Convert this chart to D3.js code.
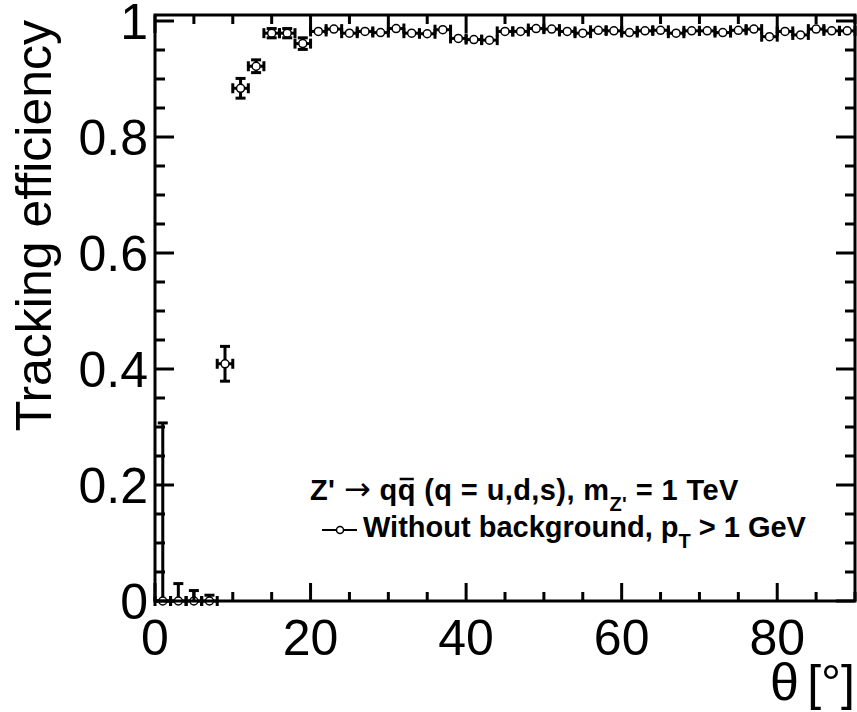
<!DOCTYPE html>
<html>
<head>
<meta charset="utf-8">
<script src="https://cdn.jsdelivr.net/npm/d3@7"></script>
<style>
  body { margin: 0; background: #fff; }
  text { font-family: "Liberation Sans", Arial, Helvetica, sans-serif; fill: #000; }
</style>
</head>
<body>
<svg id="chart" width="857" height="712"></svg>
<script>
// Polar angle bin centres (2 degree bins from 0 to 90)
const theta = [1, 3, 5, 7, 9, 11, 13, 15, 17, 19, 21, 23, 25, 27, 29, 31, 33, 35, 37, 39,
  41, 43, 45, 47, 49, 51, 53, 55, 57, 59, 61, 63, 65, 67, 69, 71, 73, 75, 77, 79,
  81, 83, 85, 87, 89];
const binHalfWidth = 1;

// Tracking efficiency per bin
const efficiency = [0, 0, 0, 0, 0.409, 0.884, 0.922, 0.979, 0.979, 0.961,
  0.982, 0.986, 0.979, 0.982, 0.980, 0.987, 0.979, 0.978, 0.985, 0.970,
  0.968, 0.967, 0.982, 0.982, 0.987, 0.986, 0.982, 0.979, 0.984, 0.983,
  0.980, 0.983, 0.984, 0.979, 0.983, 0.983, 0.980, 0.984, 0.986, 0.973,
  0.982, 0.976, 0.986, 0.983, 0.983];

// Asymmetric uncertainties
const errUp = [0.307, 0.030, 0.018, 0.010, 0.030, 0.017, 0.011, 0.008, 0.008, 0.010,
  0.005, 0.005, 0.005, 0.005, 0.005, 0.005, 0.005, 0.005, 0.005, 0.005,
  0.005, 0.005, 0.005, 0.005, 0.005, 0.005, 0.005, 0.005, 0.005, 0.005,
  0.005, 0.005, 0.005, 0.005, 0.005, 0.005, 0.005, 0.005, 0.005, 0.005,
  0.005, 0.005, 0.005, 0.005, 0.005];
const errDown = [0, 0, 0, 0, 0.030, 0.017, 0.011, 0.008, 0.008, 0.010,
  0.005, 0.005, 0.005, 0.005, 0.005, 0.005, 0.005, 0.005, 0.005, 0.005,
  0.005, 0.005, 0.005, 0.005, 0.005, 0.005, 0.005, 0.005, 0.005, 0.005,
  0.005, 0.005, 0.005, 0.005, 0.005, 0.005, 0.005, 0.005, 0.005, 0.005,
  0.005, 0.005, 0.005, 0.005, 0.005];

const xMajorTicks = [0, 20, 40, 60, 80];
const xTickLabels = ["0", "20", "40", "60", "80"];
const yMajorTicks = [0, 0.2, 0.4, 0.6, 0.8, 1];
const yTickLabels = ["0", "0.2", "0.4", "0.6", "0.8", "1"];

const svg = d3.select("#chart");
const frame = { left: 155, right: 855, top: 15, bottom: 601 };

const x = d3.scaleLinear().domain([0, 90]).range([frame.left, frame.right]);
const y = d3.scaleLinear().domain([0, 1]).range([frame.bottom, frame.bottom - 580]);
const yTop = y.invert(frame.top);

svg.append("rect").attr("width", 857).attr("height", 712).attr("fill", "#fff");

const ink = "#000";
const lw = 3;

// frame
svg.append("rect")
  .attr("x", frame.left).attr("y", frame.top)
  .attr("width", frame.right - frame.left).attr("height", frame.bottom - frame.top)
  .attr("fill", "none").attr("stroke", ink).attr("stroke-width", lw);

// ticks on all four sides
const xMinor = d3.range(0, 90.001, 5);
const yMinor = d3.range(0, yTop, 0.05);
const g = svg.append("g").attr("stroke", ink).attr("stroke-width", lw);
xMinor.forEach(v => {
  const len = xMajorTicks.includes(v) ? 18 : 9;
  const px = x(v);
  g.append("line").attr("x1", px).attr("x2", px).attr("y1", frame.bottom).attr("y2", frame.bottom - len);
  g.append("line").attr("x1", px).attr("x2", px).attr("y1", frame.top).attr("y2", frame.top + len);
});
yMinor.forEach(v => {
  const major = yMajorTicks.some(t => Math.abs(t - v) < 1e-6);
  const len = major ? 19 : 10;
  const py = y(v);
  g.append("line").attr("x1", frame.left).attr("x2", frame.left + len).attr("y1", py).attr("y2", py);
  g.append("line").attr("x1", frame.right).attr("x2", frame.right - len).attr("y1", py).attr("y2", py);
});

// tick labels
svg.selectAll(".xl").data(xMajorTicks).enter().append("text")
  .attr("x", d => x(d)).attr("y", 655)
  .attr("text-anchor", "middle").attr("font-size", 50)
  .text((d, i) => xTickLabels[i]);
svg.selectAll(".yl").data(yMajorTicks).enter().append("text")
  .attr("x", 148).attr("y", d => y(d) + 17.5)
  .attr("text-anchor", "end").attr("font-size", 50)
  .text((d, i) => yTickLabels[i]);

// axis titles
svg.append("text")
  .attr("transform", "translate(51,20) rotate(-90)")
  .attr("text-anchor", "end").attr("font-size", 50)
  .text("Tracking efficiency");
svg.append("text")
  .attr("x", 799).attr("y", 700).attr("text-anchor", "end").attr("font-size", 52)
  .attr("font-family", "'Liberation Serif', 'DejaVu Serif', serif")
  .text("\u03b8");
svg.append("text")
  .attr("x", 855).attr("y", 700).attr("text-anchor", "end").attr("font-size", 50)
  .text("[\u00b0]");

// error bars and markers
const r = 4, cap = 5;
const pts = theta.map((t, i) => ({ t, e: efficiency[i], up: errUp[i], dn: errDown[i] }));
const eb = svg.append("g").attr("stroke", ink).attr("stroke-width", lw).attr("fill", "none");
pts.forEach(p => {
  const px = x(p.t), py = y(p.e);
  const xl = x(p.t - binHalfWidth), xr = x(p.t + binHalfWidth);
  // horizontal bar outside the marker, with end caps
  eb.append("line").attr("x1", xl).attr("x2", px - r).attr("y1", py).attr("y2", py);
  eb.append("line").attr("x1", px + r).attr("x2", xr).attr("y1", py).attr("y2", py);
  eb.append("line").attr("x1", xl).attr("x2", xl).attr("y1", py - cap).attr("y2", py + cap);
  eb.append("line").attr("x1", xr).attr("x2", xr).attr("y1", py - cap).attr("y2", py + cap);
  // vertical bar outside the marker, with end caps
  const yu = y(p.e + p.up), yd = y(p.e - p.dn);
  if (py - yu > r) {
    eb.append("line").attr("x1", px).attr("x2", px).attr("y1", py - r).attr("y2", yu);
    eb.append("line").attr("x1", px - cap).attr("x2", px + cap).attr("y1", yu).attr("y2", yu);
  }
  if (yd - py > r) {
    eb.append("line").attr("x1", px).attr("x2", px).attr("y1", py + r).attr("y2", yd);
    eb.append("line").attr("x1", px - cap).attr("x2", px + cap).attr("y1", yd).attr("y2", yd);
  }
});
svg.append("g").selectAll("circle").data(pts).enter().append("circle")
  .attr("cx", d => x(d.t)).attr("cy", d => y(d.e)).attr("r", r)
  .attr("fill", "none").attr("stroke", ink).attr("stroke-width", 1.5);

// legend
const fs = 29;
const l1 = svg.append("text").attr("x", 310).attr("y", 500)
  .attr("font-size", fs).attr("font-weight", "bold").attr("letter-spacing", 0.4);
l1.append("tspan").text("Z' ");
l1.append("tspan").attr("font-weight", "normal").attr("font-size", 32)
  .attr("font-family", "'DejaVu Sans', sans-serif").text("\u2192");
l1.append("tspan").text(" qq (q = u,d,s), m");
l1.append("tspan").attr("font-size", 20).attr("dy", 11).text("Z'");
l1.append("tspan").attr("dy", -11).text(" = 1 TeV");
// bar over the antiquark
const qbar = l1.node().getExtentOfChar(6);
svg.append("line")
  .attr("x1", qbar.x + 2).attr("x2", qbar.x + qbar.width - 2)
  .attr("y1", 479).attr("y2", 479)
  .attr("stroke", ink).attr("stroke-width", 2.5);

svg.append("line").attr("x1", 322).attr("x2", 357).attr("y1", 530).attr("y2", 530)
  .attr("stroke", ink).attr("stroke-width", 2);
svg.append("circle").attr("cx", 340).attr("cy", 530).attr("r", 3.5)
  .attr("fill", "#fff").attr("stroke", ink).attr("stroke-width", 1.5);
const l2 = svg.append("text").attr("x", 363).attr("y", 537)
  .attr("font-size", fs).attr("font-weight", "bold");
l2.append("tspan").text("Without background, p");
l2.append("tspan").attr("font-size", 20).attr("dy", 11).text("T");
l2.append("tspan").attr("dy", -11).text(" > 1 GeV");
</script>
</body>
</html>
